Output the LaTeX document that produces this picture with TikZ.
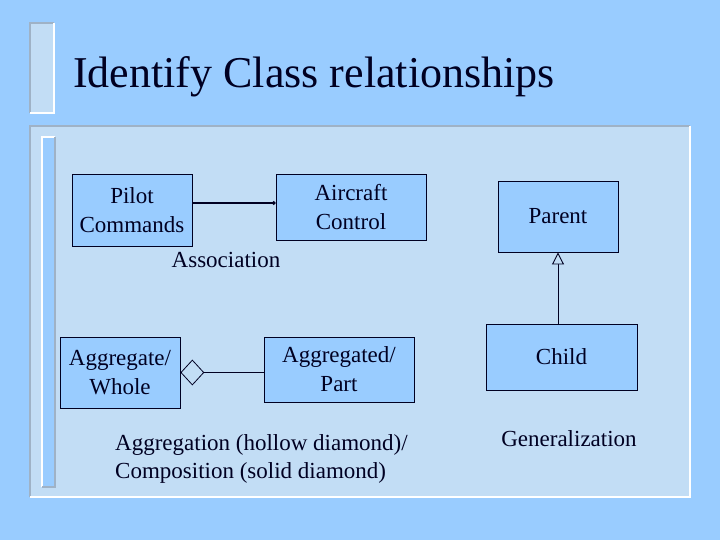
\documentclass[tikz,border=0pt]{standalone}
\usepackage{fontspec}
\setmainfont{Liberation Serif}
\usetikzlibrary{arrows.meta, shapes.geometric}
\definecolor{slidebg}{HTML}{99CCFF}
\definecolor{panelbg}{HTML}{C2DDF5}
\definecolor{edgegray}{HTML}{9FB2C6}
\definecolor{inkblue}{HTML}{000022}

\tikzset{
  classbox/.style={draw=inkblue, line width=0.9pt, fill=slidebg, align=center,
    inner sep=0pt, font=\fontsize{23}{29}\selectfont, text=inkblue},
  caption/.style={font=\fontsize{23}{28}\selectfont, text=inkblue, inner sep=0pt},
  link/.style={draw=inkblue, line width=0.9pt}
}

\begin{document}
\begin{tikzpicture}[x=1pt, y=-1pt]
  \useasboundingbox (0,0) rectangle (720,540);
  \fill[slidebg] (0,0) rectangle (720,540);
  % title bar
  \fill[panelbg] (30,23) rectangle (54,113);
  \draw[edgegray, line width=1.5pt] (30,113) -- (30,23) -- (54,23);
  \draw[white, line width=1.5pt] (54,23) -- (54,113) -- (30,113);
  \node[anchor=base west, font=\fontsize{44}{50}\selectfont, text=inkblue, inner sep=0pt]
    (title) at (73,88) {Identify Class relationships};
  % content panel
  \fill[panelbg] (30,126) rectangle (690,497);
  \draw[edgegray, line width=1.5pt] (30,497) -- (30,126) -- (690,126);
  \draw[white, line width=1.5pt] (690,126) -- (690,497) -- (30,497);
  \fill[slidebg] (42,137) rectangle (55,487);
  \draw[white, line width=1.5pt] (42,487) -- (42,137) -- (55,137);
  \draw[edgegray, line width=1.5pt] (55,137) -- (55,487) -- (42,487);

  % association
  \node[classbox, minimum width=120pt, minimum height=72pt] (pilot) at (132,210) {Pilot\\Commands};
  \node[classbox, minimum width=150pt, minimum height=66pt] (aircraft) at (351,207.5) {Aircraft\\Control};
  \draw[link, line width=1.8pt, -{Circle[length=3.5pt]}] ([yshift=7pt]pilot.east) -- ([yshift=4.5pt]aircraft.west);
  \node[caption] (assoc) at (226,260) {Association};

  % aggregation
  \node[classbox, minimum width=120pt, minimum height=71pt] (whole) at (120,372.5) {Aggregate/\\Whole};
  \node[classbox, minimum width=150pt, minimum height=65pt] (part) at (339,369.5) {Aggregated/\\Part};
  \node[diamond, draw=inkblue, line width=0.8pt, fill=panelbg, inner sep=0pt,
    minimum width=23pt, minimum height=25pt, anchor=west] (hollow) at (whole.east) {};
  \draw[link] (hollow.east) -- (hollow.east -| part.west);
  \node[caption, anchor=west, align=left] (aggr) at (115,459)
    {Aggregation (hollow diamond)/\\Composition (solid diamond)};

  % generalization
  \node[classbox, minimum width=120pt, minimum height=71pt] (parent) at (558,216.5) {Parent};
  \node[classbox, minimum width=151pt, minimum height=66pt] (child) at (561.5,357) {Child};
  \draw[link, -{Triangle[open, length=12pt, width=12pt, fill=panelbg]}] (parent.south |- child.north) -- (parent.south);
  \node[caption] (gen) at (569,439) {Generalization};
\end{tikzpicture}
\end{document}
